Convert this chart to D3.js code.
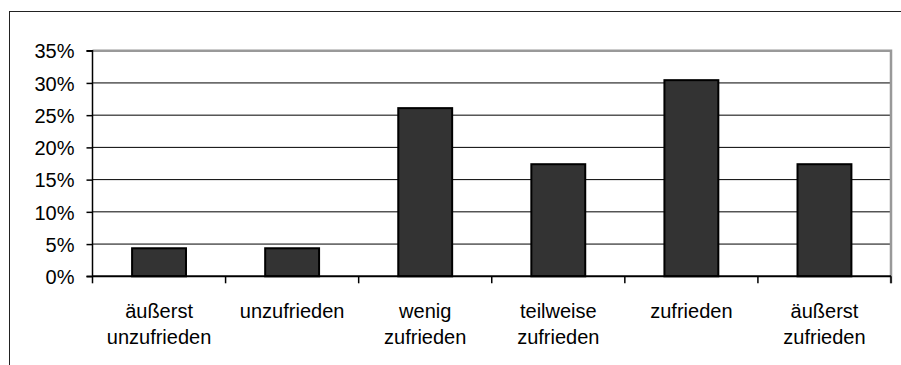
<!DOCTYPE html>
<html><head><meta charset="utf-8">
<script src="https://cdn.jsdelivr.net/npm/d3@7"></script>
<style>body{margin:0;background:#fff}svg{display:block}text{font-family:"Liberation Sans",Arial,sans-serif;fill:#000}</style>
</head><body>
<script>
const categories = [["äußerst","unzufrieden"],["unzufrieden"],["wenig","zufrieden"],["teilweise","zufrieden"],["zufrieden"],["äußerst","zufrieden"]];
const values = [4.35, 4.35, 26.09, 17.39, 30.43, 17.39];
const yTicks = [0,5,10,15,20,25,30,35];

const W = 901, H = 365;
const svg = d3.select("body").append("svg").attr("width", W).attr("height", H);
svg.append("rect").attr("x", 9.5).attr("y", 11.5).attr("width", 1000).attr("height", 1000)
  .attr("fill", "none").attr("stroke", "#222").attr("stroke-width", 1);

const L = 92.5, R = 891, T = 50.7, B = 276.3;
const x = d3.scaleBand().domain(d3.range(values.length)).range([L, R]).paddingInner(0.595).paddingOuter(0.2975);
const xc = d3.scaleBand().domain(d3.range(values.length)).range([L, R]);
const y = d3.scaleLinear().domain([0, 35]).range([B, T]);

// gridlines
svg.append("g").selectAll("line").data(yTicks.filter(d => d > 0 && d < 35)).join("line")
  .attr("x1", L).attr("x2", R).attr("y1", d => y(d)).attr("y2", d => y(d))
  .attr("stroke", "#000").attr("stroke-width", 1);
// top & right plot border (gray)
svg.append("path").attr("d", `M${L},${y(35)}H${R}V${B + 7}`).attr("fill", "none")
  .attr("stroke", "#999").attr("stroke-width", 2.5);

// bars
svg.append("g").selectAll("rect").data(values).join("rect")
  .attr("x", (d, i) => x(i)).attr("width", x.bandwidth())
  .attr("y", d => y(d)).attr("height", d => B - y(d))
  .attr("fill", "#333").attr("stroke", "#000").attr("stroke-width", 2);

// y axis
const yAxis = d3.axisLeft(y).tickValues(yTicks).tickFormat(d => d + "%").tickSize(6).tickPadding(12);
const gy = svg.append("g").attr("transform", `translate(${L},0)`).call(yAxis);
gy.select(".domain").attr("stroke", "#000").attr("stroke-width", 1.5).attr("d", `M-6,${B}H0V${T}H-6`);
gy.selectAll(".tick line").attr("stroke", "#000").attr("stroke-width", 1.5);
gy.selectAll(".tick text").style("font-size", "20px").attr("dy", "0.36em");

// x axis
const gx = svg.append("g").attr("transform", `translate(0,${B})`);
gx.append("line").attr("x1", L).attr("x2", R).attr("stroke", "#000").attr("stroke-width", 2);
gx.selectAll("line.t").data(d3.range(values.length + 1)).join("line").attr("class", "t")
  .attr("x1", i => i < values.length ? xc(i) : R).attr("x2", i => i < values.length ? xc(i) : R)
  .attr("y1", 0).attr("y2", 7).attr("stroke", "#000").attr("stroke-width", 1.5);
gx.selectAll("text").data(categories).join("text")
  .attr("text-anchor", "middle").style("font-size", "20px")
  .attr("transform", (d, i) => `translate(${xc(i) + xc.bandwidth() / 2},0)`)
  .each(function (d) {
    d3.select(this).selectAll("tspan").data(d).join("tspan")
      .attr("x", 0).attr("y", (t, j) => 42 + j * 26).text(t => t);
  });
</script>
</body></html>
